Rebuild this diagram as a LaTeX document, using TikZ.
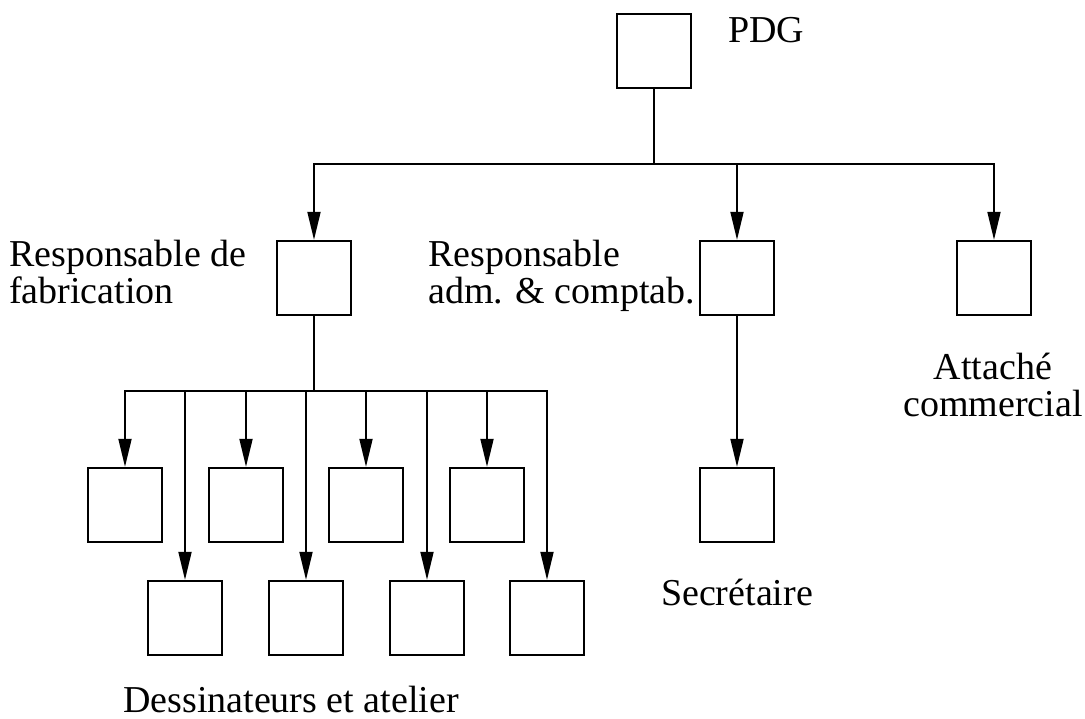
\documentclass[tikz,border=0pt]{standalone}
\usepackage{fontspec}
\setmainfont{Liberation Serif}
\usetikzlibrary{arrows.meta}
\begin{document}
\begin{tikzpicture}[x=1pt,y=-1pt,
  box/.style={draw, line width=1.8pt, minimum size=74.5pt, inner sep=0pt},
  conn/.style={line width=1.8pt},
  arr/.style={conn, -{Triangle[length=28pt,width=13pt]}},
  lbl/.style={font=\fontsize{38}{37}\selectfont, inner sep=0pt}]
\useasboundingbox (0,0) rectangle (1085,719);
% boxes
\node[box] (pdg) at (654,51) {};
\node[box] (fab) at (314,278) {};
\node[box] (adm) at (737,278) {};
\node[box] (att) at (994,278) {};
\node[box] (sec) at (737,505) {};
\node[box] (u1) at (125,505) {};
\node[box] (u2) at (246,505) {};
\node[box] (u3) at (366,505) {};
\node[box] (u4) at (487,505) {};
\node[box] (l1) at (185,618) {};
\node[box] (l2) at (306,618) {};
\node[box] (l3) at (427,618) {};
\node[box] (l4) at (547,618) {};
% bus points
\coordinate (b1) at (654,164);
\coordinate (b2) at (314,391);
% connectors
\draw[conn] (pdg.south) -- (b1);
\draw[arr] (b1) -| (fab.north);
\draw[arr] (b1) -| (att.north);
\draw[arr] (adm.north |- b1) -- (adm.north);
\draw[arr] (adm.south) -- (sec.north);
\draw[conn] (fab.south) -- (b2);
\draw[arr] (b2) -| (u1.north);
\draw[arr] (b2) -| (l4.north);
\foreach \n in {u2,u3,u4,l1,l2,l3}
  \draw[arr] (\n.north |- b2) -- (\n.north);
% labels (base anchor of a multi-line node = baseline of its last line)
\node[lbl, anchor=base west] (pdgl) at (728,43) {PDG};
\node[lbl, anchor=base west, align=left] (fabl) at (9,304) {Responsable de\\fabrication};
\node[lbl, anchor=base west, align=left] (adml) at (428,304) {Responsable\\adm. \& comptab.};
\node[lbl, anchor=base, align=center] (attl) at (993,417) {Attaché\\commercial};
\node[lbl, anchor=base] (secl) at (737,605) {Secrétaire};
\node[lbl, anchor=base] (desl) at (291,712) {Dessinateurs et atelier};
\end{tikzpicture}
\end{document}
